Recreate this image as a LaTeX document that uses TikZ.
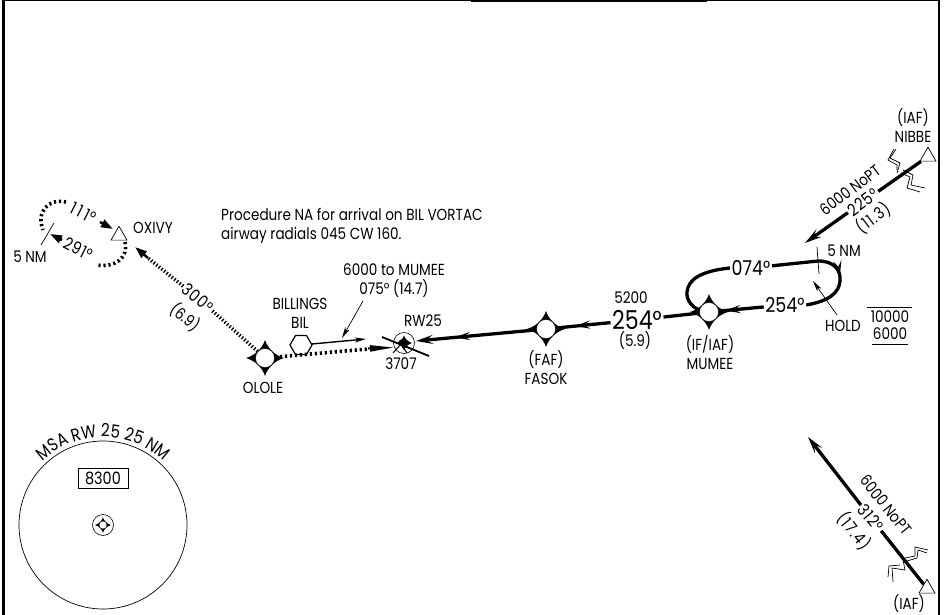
\documentclass[tikz,border=0pt]{standalone}
\usepackage{fontspec}
\setmainfont{Poppins}[FakeStretch=0.85]
\usetikzlibrary{arrows.meta,shapes.geometric,decorations.markings,decorations.text}
\tikzset{
  lbl/.style = {inner sep=1pt, font=\fontsize{16}{19}\selectfont, align=center},
  brg/.style = {inner sep=1.5pt, font=\fontsize{20.5}{22}\selectfont},
  rbrg/.style = {inner sep=1.5pt, font=\fontsize{17}{19}\selectfont\addfontfeature{LetterSpace=4}},
  dist/.style = {inner sep=1pt, font=\fontsize{16.5}{19}\selectfont\addfontfeature{LetterSpace=6}},
  trk/.style = {line width=3.3pt},
  tip/.style = {-{Stealth[length=17pt,width=9pt,inset=7pt]}},
  thin tip/.style = {-{Stealth[length=11pt,width=5pt,inset=3pt]}},
  wedge/.style = {line width=2.5pt, -{Stealth[length=12pt,width=8pt,inset=0pt]}},
  dots/.style = {line width=3.6pt, dash pattern=on 1.3pt off 2pt},
  bigdots/.style = {line width=3.6pt, dash pattern=on 2.2pt off 2.8pt},
  midtip/.style = {postaction=decorate, decoration={markings, mark=at position #1 with {\arrow{Stealth[length=15pt,width=8pt,inset=6pt]}}}},
  fix/.style = {draw, circle, fill=white, line width=.4pt, minimum size=19pt, inner sep=0pt},
  iaf/.style = {draw, regular polygon, regular polygon sides=3, fill=white, line width=.7pt, minimum size=18.5pt, inner sep=0pt},
  zig/.style = {line width=.7pt},
}
\newcommand{\fixstar}[3][1]{% scale, x, y
  \fill[shift={(#2,#3)}, scale=#1] (0,-18) .. controls (2.5,-10) and (10,-2.5) .. (19,0)
    .. controls (10,2.5) and (2.5,10) .. (0,18) .. controls (-2.5,10) and (-10,2.5) .. (-19,0)
    .. controls (-10,-2.5) and (-2.5,-10) .. (0,-18) -- cycle;}
\begin{document}
\begin{tikzpicture}[x=1pt, y=-1pt]
  \useasboundingbox (0,0) rectangle (950,615);
  % frame
  \draw[line width=2.5pt] (3.5,0) -- (3.5,615);
  \draw[line width=2pt] (939,0) -- (939,615);
  \draw[line width=.8pt] (3,.5) -- (939,.5);
  \draw[line width=2pt] (471,1) -- (707,1);

  % symbols
  \fixstar{265}{358} \fixstar{546}{329} \fixstar{709}{312}
  \node[iaf] (oxivy) at (119,235.5) {};
  \node[iaf] (nibbe) at (928,156.5) {};
  \node[iaf] (southiaf) at (927,588.5) {};
  \node[draw, regular polygon, regular polygon sides=6, line width=1.2pt, minimum size=22pt, inner sep=0pt] (bil) at (301,345) {};
  \node[draw, circle, line width=.6pt, minimum size=21pt, inner sep=0pt] (rwy) at (404,343) {};

  % labels
  \node[lbl] (oxivytxt) at (153,228) {OXIVY};
  \node[lbl] (ololetxt) at (263,388) {OLOLE};
  \node[lbl] (biltxt) at (300,313) {BILLINGS\\BIL};
  \node[lbl, align=left, anchor=west] (natxt) at (220,225.5) {Procedure NA for arrival on BIL VORTAC\\airway radials 045 CW 160.};
  \node[lbl] (ldtxt) at (394,281) {6000 to MUMEE\\075° (14.7)};
  \node[lbl] (rwtxt) at (423,321) {RW25};
  \node[lbl] (elevtxt) at (401,364) {3707};
  \node[lbl] (fasoktxt) at (546,367.5) {(FAF)\\FASOK};
  \node[lbl] (mumeetxt) at (710,352.5) {(IF/IAF)\\MUMEE};
  \node[lbl] (alt5200) at (631,298) {5200};
  \node[lbl] (dist59) at (635,341) {(5.9)};
  \node[inner sep=1.5pt, font=\fontsize{26}{28}\selectfont] (brgmain) at (637,320) {254°};
  \node[brg] (brgout) at (751,268) {074°};
  \node[brg] (brgin) at (785,305) {254°};
  \node[lbl] (nm5r) at (844,251) {5 NM};
  \node[lbl] (holdtxt) at (843,326) {HOLD};
  \node[lbl] (holdhi) at (890,317) {10000};
  \node[lbl] (holdlo) at (890,334) {6000};
  \node[lbl] (nibbetxt) at (913,126) {(IAF)\\NIBBE};
  \node[lbl, rotate=37] (alt225) at (850,190) {6000 NoPT};
  \node[rbrg, rotate=37] (brg225) at (863,202) {225°};
  \node[dist, rotate=37] (dist225) at (873,218) {(11.3)};
  \node[lbl, rotate=-51] (alt312) at (886,505) {6000 NoPT};
  \node[rbrg, rotate=-51] (brg312) at (871,518) {312°};
  \node[dist, rotate=-51] (dist312) at (854,531) {(17.4)};
  \node[lbl] (iaftxt) at (909,604) {(IAF)};
  \node[rbrg, rotate=-40] (brg300) at (198,298) {300°};
  \node[lbl, rotate=-40] (dist300) at (185,317) {(6.9)};
  \node[rbrg, rotate=-27] (brg111) at (83,213) {1\,1\,1°};
  \node[rbrg, rotate=-27] (brg291) at (78,249) {291°};
  \node[lbl] (nm5l) at (30,257) {5 NM};

  % coordinates for free ends
  \coordinate (ldtip) at (366,339);
  \coordinate (ldmid) at (342,338);
  \coordinate (ldfrom) at (363,301);
  \coordinate (rwytip) at (416,341);
  \coordinate (oxtip) at (135,247);
  \coordinate (nibtip) at (805,243);
  \coordinate (soutip) at (808,437);
  \coordinate (dottip) at (394,347.5);
  \coordinate (hl) at (54,223);
  \coordinate (hm) at (41,245);

  % tracks
  \draw[bigdots] (265,358) -- (368,349);
  \draw[line width=2pt, -{Stealth[length=24pt,width=6pt,inset=0pt]}] (368,348.5) -- (dottip);
  \draw[dots] (265,358) -- (brg300);
  \draw[dots] (brg300) -- (148,258);
  \draw[wedge] (148,258) -- (oxtip);
  \draw[line width=1.4pt, thin tip] (bil) -- (ldtip);
  \draw[line width=.7pt, thin tip] (ldfrom) -- (ldmid);
  \draw[trk, tip, midtip=.7] (546,329) -- (rwytip);
  \draw[trk, midtip=.55] (brgmain) -- (546,329);
  \draw[trk] (709,312) -- (brgmain);
  \draw[trk] (709,312) .. controls (690,311) and (686,297) .. (687,292)
    .. controls (688,280) and (700,271) .. (brgout.west);
  \draw[trk, midtip=.6] (brgout) -- (818,261) .. controls (836,261) and (841,272) .. (840,281)
    .. controls (839,293) and (829,301) .. (brgin.east);
  \draw[trk, midtip=.7] (brgin) -- (709,312);
  \draw[line width=.7pt] (817,247) -- (819,274);
  \draw[line width=.7pt, thin tip] (837,315) -- (813,281);
  \draw[line width=.7pt] (867,307) -- (912,307);
  \draw[line width=.7pt] (872,344) -- (908,344);
  \draw[trk] (nibbe) -- (brg225);
  \draw[trk, tip] (brg225) -- (nibtip);
  \draw[trk] (southiaf) -- (brg312);
  \draw[trk, tip] (brg312) -- (soutip);

  % zigzags
  \draw[zig] (896,149) -- (890,158) -- (900,163) -- (897,173);
  \draw[zig] (894,149) -- (888,160) -- (897,165) -- (897,170);
  \draw[zig] (903,170) -- (913,175) -- (911,185) -- (925,188);
  \draw[zig] (901,173) -- (910,177) -- (907,188) -- (920,192);
  \draw[zig] (928,550) -- (915,547) -- (915,556) -- (905,558);
  \draw[zig] (927,553) -- (918,550) -- (917,558) -- (907,561);
  \draw[zig] (903,560) -- (905,570) -- (892,568) -- (893,582);
  \draw[zig] (900,565) -- (889,566) -- (888,577);
  % hold at oxivy
  \draw[bigdots] (66,202) .. controls (48,198) and (36,212) .. (43,230);
  \draw[bigdots] (125,242) .. controls (129,258) and (114,268) .. (97,265);
  \draw[wedge] (100,222) -- (113,229);
  \draw[wedge] (62,240) -- (50,234);
  \draw[line width=.7pt] (hl) -- (hm);

  % runway
  \fixstar[.42]{404}{343}
  \draw[line width=1.8pt] (382,337) -- (429,356);
  \fill (401.5,342) circle (2.5);
  \draw[line width=1pt] (393,353) -- (401,344) -- (407,353);

  % msa
  \node[draw, circle, line width=.7pt, minimum size=168pt, inner sep=0pt] (msa) at (103,525) {};
  \node[draw, line width=.7pt, inner sep=0pt, minimum width=50pt, minimum height=20pt, font=\fontsize{17}{19}\selectfont] (msabox) at (103,478) {8300};
  \fixstar[.42]{103}{525}
  \node[draw, circle, fill=white, line width=.4pt, minimum size=8pt, inner sep=0pt] (msafix) at (103,525) {};
  \node[draw, circle, line width=.6pt, minimum size=21pt, inner sep=0pt] (msaring) at (103,525) {};
  \path[decorate, decoration={text along path, text align=center, text={|\fontsize{18}{20}\selectfont|MSA RW 25 25 NM}}]
    (103,525) ++(-140:88) arc[start angle=-140, end angle=-40, radius=88];

  % fix centres
  \node[fix] (ololefix) at (265,358) {};
  \node[fix] (fasokfix) at (546,329) {};
  \node[fix] (mumeefix) at (709,312) {};
\end{tikzpicture}
\end{document}
